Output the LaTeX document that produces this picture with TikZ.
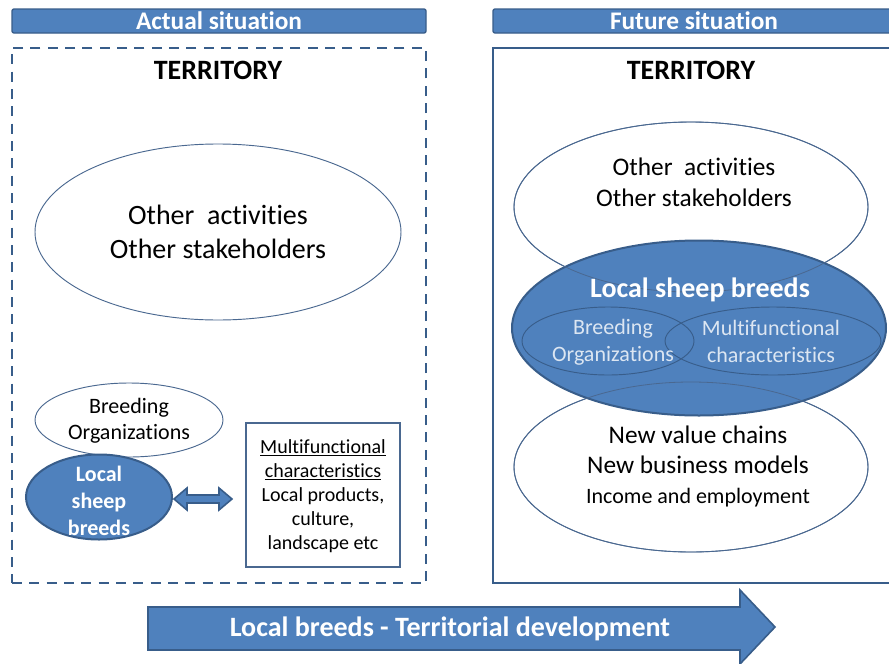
\documentclass[tikz,border=0pt]{standalone}
\usepackage{fontspec}
\setmainfont{Carlito}[Ligatures=NoCommon]
\usetikzlibrary{shapes.geometric}
\definecolor{bfill}{HTML}{4F81BD}
\definecolor{bline}{HTML}{385D8A}
\definecolor{eline}{HTML}{4A6890}
\definecolor{itext}{HTML}{DCE6F2}
\begin{document}
\begin{tikzpicture}[x=0.75pt,y=-0.75pt,
  header/.style={rectangle, rounded corners=1.5pt, fill=bfill, draw=bline, line width=1pt, text=white, inner sep=0pt, minimum height=18pt, font=\bfseries\fontsize{19}{22}\selectfont},
  terrbox/.style={rectangle, draw=bline, line width=1.8pt, inner sep=0pt, minimum height=401.25pt},
  wellipse/.style={ellipse, draw=eline, line width=0.7pt, fill=white, inner sep=0pt},
  oellipse/.style={ellipse, draw=eline, line width=0.6pt, inner sep=0pt},
  bellipse/.style={ellipse, draw=bline, line width=1.5pt, fill=bfill, inner sep=0pt},
  iellipse/.style={ellipse, draw=bline, line width=0.7pt, inner sep=0pt},
  blockarrow/.style={fill=bfill, draw=bline, line width=1.2pt, line join=miter},
  ttl/.style={font=\bfseries\fontsize{21}{24}\selectfont},
  txt/.style={align=center, inner sep=0pt}
]
\useasboundingbox (0,0) rectangle (889,664);
\fill[white] (0,0) rectangle (889,664);

% headers
\node[header, minimum width=310.5pt] (hl) at (219,21) {Actual situation};
\node[header, minimum width=301.5pt] (hr) at (694,21) {Future situation};

% territory boxes
\node[terrbox, dash pattern=on 7.5pt off 5.5pt, minimum width=310.5pt] (tl) at (219,315.5) {};
\node[terrbox, minimum width=301.5pt] (tr) at (694,315.5) {};
\node[ttl] (terl) at (218,70) {TERRITORY};
\node[ttl] (terr) at (691,70) {TERRITORY};

% ---- left: actual situation
\node[wellipse, minimum width=274.5pt, minimum height=132pt] (oal) at (218,232) {};
\node[txt, font=\fontsize{21}{25.5}\selectfont] (oalt) at (218,232) {Other\ \ activities\\Other stakeholders};

\node[wellipse, minimum width=141pt, minimum height=55.5pt] (bol) at (129,420) {};
\node[txt, font=\fontsize{16.5}{19.5}\selectfont] (bolt) at (129,421) {Breeding\\Organizations};

\node[bellipse, minimum width=109.5pt, minimum height=63.75pt] (lsl) at (99,497) {};
\node[txt, text=white, font=\bfseries\fontsize{16.5}{20}\selectfont] (lslt) at (99,501) {Local\\sheep\\breeds};

\node[rectangle, draw=eline, line width=0.8pt, minimum width=115.5pt, minimum height=108pt, inner sep=0pt] (mfl) at (323,495) {};
\node[txt, font=\fontsize{15}{18}\selectfont] (mflt) at (323,496) {\underline{Multifunctional}\\\underline{characteristics}\\Local products,\\culture,\\landscape etc};

\draw[blockarrow] (174,499) -- (187,488) -- (187,495) -- (219,495) -- (219,488) -- (232,499)
  -- (219,510) -- (219,503) -- (187,503) -- (187,510) -- cycle;

% ---- right: future situation
\node[wellipse, minimum width=265.5pt, minimum height=127.5pt] (oar) at (691,207) {};
\node[wellipse, minimum width=265.5pt, minimum height=127.5pt] (nvr) at (691,467) {};
\node[bellipse, minimum width=280.5pt, minimum height=131.25pt] (lsr) at (699,328) {};
\node[oellipse, minimum width=265.5pt, minimum height=127.5pt] (oar2) at (691,207) {};
\node[oellipse, minimum width=265.5pt, minimum height=127.5pt] (nvr2) at (691,467) {};
\node[iellipse, minimum width=129pt, minimum height=51pt] (bor) at (608,341) {};
\node[iellipse, minimum width=162pt, minimum height=51pt] (mfr) at (773,341) {};

\node[txt, font=\fontsize{19}{23.25}\selectfont] (oart) at (694,182) {Other\ \ activities\\Other stakeholders};
\node[txt, font=\fontsize{19}{22.5}\selectfont] (nvrt) at (698,466) {New value chains\\New business models\\{\fontsize{16.5}{22.5}\selectfont Income and employment}};
\node[txt, text=white, font=\bfseries\fontsize{21}{25}\selectfont] (lsrt) at (700,290) {Local sheep breeds};
\node[txt, text=itext, font=\fontsize{16.5}{20.25}\selectfont] (bort) at (613,342) {Breeding\\Organizations};
\node[txt, text=itext, font=\fontsize{16.5}{20.25}\selectfont] (mfrt) at (771,341) {Multifunctional\\characteristics};

% ---- bottom arrow
\draw[blockarrow] (148,607) -- (740,607) -- (740,590) -- (775,627) -- (740,664) -- (740,650) -- (148,650) -- cycle;
\node[txt, text=white, font=\bfseries\fontsize{21}{25}\selectfont] (arrt) at (450,629) {Local breeds - Territorial development};
\end{tikzpicture}
\end{document}
